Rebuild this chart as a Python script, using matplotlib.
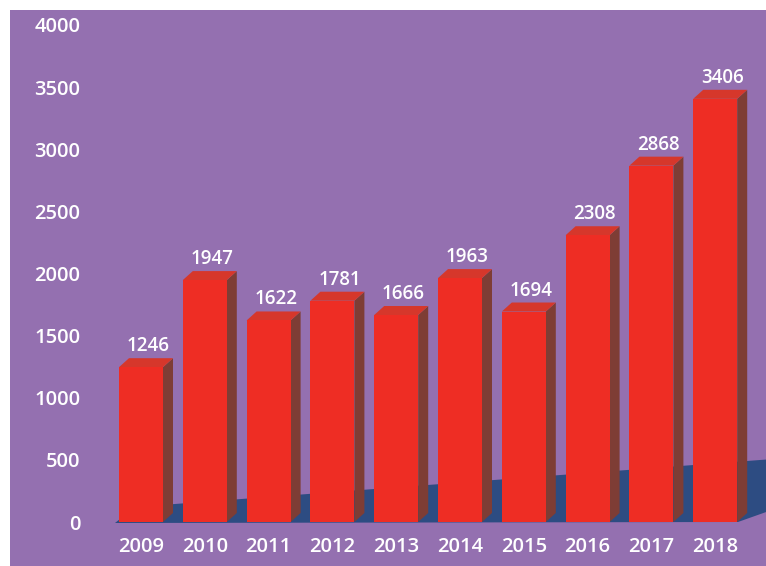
import numpy as np
import matplotlib
matplotlib.use("Agg")
from matplotlib import pyplot as plt
from matplotlib.patches import Polygon, Rectangle

# chart data
years = ["2009", "2010", "2011", "2012", "2013", "2014", "2015", "2016", "2017", "2018"]
values = [1246, 1947, 1622, 1781, 1666, 1963, 1694, 2308, 2868, 3406]
y_ticks = [0, 500, 1000, 1500, 2000, 2500, 3000, 3500, 4000]

# colours
BG = "#9470b0"
FRONT = "#ee2d24"
SIDE = "#7e3d35"
TOP = "#d6372b"
FLOOR = "#2d4c82"

plt.rcParams['font.family'] = ['Open Sans', 'DejaVu Sans']
plt.rcParams['font.weight'] = 'semibold'

W, H = 766, 566
fig = plt.figure(figsize=(W / 100, H / 100), dpi=100, facecolor="white")
# purple panel
fig.patches.append(Rectangle((10 / W, 0), 1, (H - 10) / H, transform=fig.transFigure,
                             facecolor=BG, edgecolor="none", zorder=-10))

# plot area: x from px 100 to 766, y from value 0 (px 522) to top of panel
ax = fig.add_axes([100 / W, 44 / H, 666 / W, 512 / H])
ax.set_facecolor("none")
px_per_bar = 63.8
px_per_unit = 0.12425
ax.set_xlim((100 - 141) / px_per_bar, (766 - 141) / px_per_bar)
ax.set_ylim(0, 512 / px_per_unit)

x = np.arange(len(years))
w = 44 / px_per_bar
dx = 10 / px_per_bar
dy = 9 / px_per_unit


def px(p_x, p_y):
    # convert image pixel (from top-left) to data coords
    return ((p_x - 141) / px_per_bar, (522 - p_y) / px_per_unit)


# floor
floor = Polygon([px(115, 523), px(738, 522), px(800, 500), px(800, 457), px(135, 507)],
                closed=True, facecolor=FLOOR, edgecolor="none", zorder=1, clip_on=False)
ax.add_patch(floor)

# bars
ax.bar(x, values, width=w, color=FRONT, zorder=3)
for xi, v in zip(x, values):
    r = xi + w / 2
    l = xi - w / 2
    ax.add_patch(Polygon([(r, 0), (r + dx, dy), (r + dx, v + dy), (r, v)],
                         closed=True, facecolor=SIDE, edgecolor="none", zorder=2))
    ax.add_patch(Polygon([(l, v), (r, v), (r + dx, v + dy), (l + dx, v + dy)],
                         closed=True, facecolor=TOP, edgecolor="none", zorder=2))
    ax.text(xi + 0.11, v + 21 / px_per_unit, str(v), ha="center", va="center",
            color="white", fontsize=13.5)

ax.set_xticks(x)
ax.set_xticklabels(years)
ax.set_yticks(y_ticks)
ax.set_yticklabels([str(t) for t in y_ticks])
ax.tick_params(axis="x", length=0, pad=11, colors="white", labelsize=14.5)
ax.tick_params(axis="y", length=0, pad=14, colors="white", labelsize=14.5)
for s in ax.spines.values():
    s.set_visible(False)

fig.savefig("out.png", dpi=100, facecolor="white")
